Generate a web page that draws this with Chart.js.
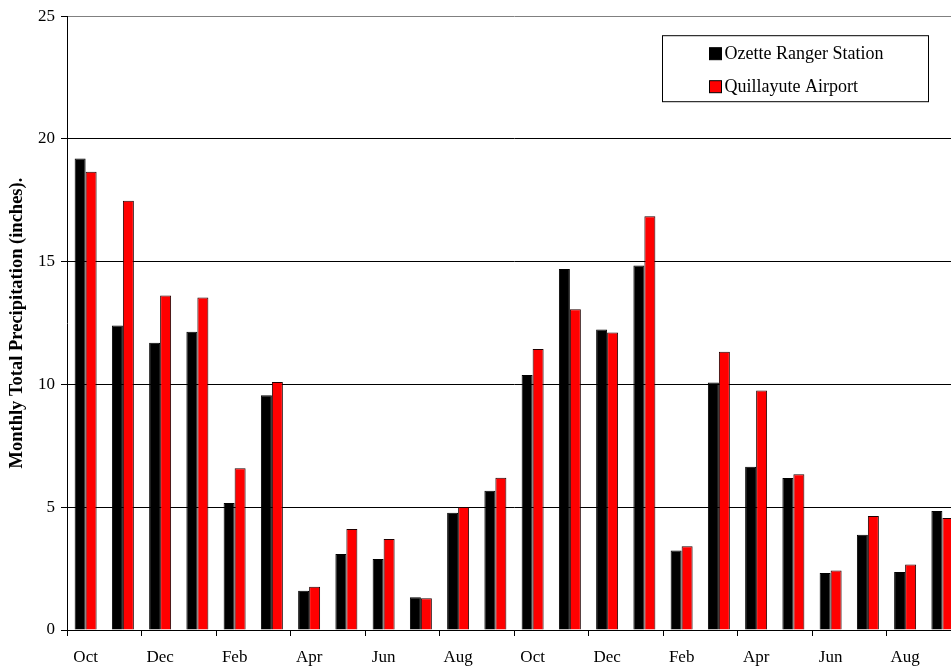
<!doctype html>
<html lang="en">
<head>
    <meta charset="utf-8">
    <title>Monthly Total Precipitation</title>
    <script src="https://cdn.jsdelivr.net/npm/chart.js@4.4.0/dist/chart.umd.min.js"></script>
    <style>
        html, body { margin: 0; padding: 0; background: #fff; overflow: hidden; }
        #wrap { width: 980px; height: 667px; }
    </style>
</head>
<body>

<div id="wrap">
    <canvas id="myChart"></canvas>
</div>

<script>
    const months = [
        'Oct', 'Nov', 'Dec', 'Jan', 'Feb', 'Mar', 'Apr', 'May', 'Jun', 'Jul', 'Aug', 'Sep',
        'Oct', 'Nov', 'Dec', 'Jan', 'Feb', 'Mar', 'Apr', 'May', 'Jun', 'Jul', 'Aug', 'Sep'
    ];

    const ozette = [
        19.2, 12.4, 11.7, 12.15, 5.17, 9.56, 1.6, 3.1, 2.89, 1.33, 4.78, 5.67,
        10.39, 14.7, 12.24, 14.85, 3.24, 10.08, 6.65, 6.19, 2.32, 3.88, 2.36, 4.85
    ];

    const quillayute = [
        18.66, 17.48, 13.62, 13.54, 6.59, 10.1, 1.76, 4.11, 3.71, 1.29, 5.01, 6.2,
        11.45, 13.06, 12.12, 16.85, 3.41, 11.33, 9.75, 6.34, 2.42, 4.64, 2.67, 4.56
    ];

    const yTicks = [0, 5, 10, 15, 20, 25];

    const serif = '"Liberation Serif", "Times New Roman", serif';

    // legend box in the top right, drawn by hand so it gets a frame
    const boxLegend = {
        id: 'boxLegend',
        afterDraw(chart) {
            const ctx = chart.ctx;
            const area = chart.chartArea;
            const x = area.left + 595.5;
            const y = area.top + 19.5;
            ctx.save();
            ctx.fillStyle = '#fff';
            ctx.strokeStyle = '#000';
            ctx.lineWidth = 1;
            ctx.fillRect(x, y, 266, 66);
            ctx.strokeRect(x, y, 266, 66);
            ctx.font = '18px ' + serif;
            ctx.textBaseline = 'middle';
            chart.data.datasets.forEach(function (ds, i) {
                const cy = y + 18 + i * 33;
                ctx.fillStyle = ds.backgroundColor;
                ctx.fillRect(x + 47, cy - 6, 12, 12);
                ctx.strokeStyle = '#000';
                ctx.strokeRect(x + 47, cy - 6, 12, 12);
                ctx.fillStyle = '#000';
                ctx.fillText(ds.label, x + 62, cy + 1);
            });
            ctx.restore();
        }
    };

    const config = {
        type: 'bar',
        data: {
            labels: months,
            datasets: [{
                label: 'Ozette Ranger Station',
                data: ozette,
                backgroundColor: '#000000',
                borderColor: '#000000',
                borderWidth: 1
            }, {
                label: 'Quillayute Airport',
                data: quillayute,
                backgroundColor: '#ff0000',
                borderColor: '#200000',
                borderWidth: 1
            }]
        },
        options: {
            responsive: true,
            maintainAspectRatio: false,
            animation: false,
            categoryPercentage: 0.59,
            barPercentage: 1.0,
            layout: {
                padding: {top: 15, right: 19, left: 0, bottom: 0}
            },
            plugins: {
                legend: {display: false},
                tooltip: {enabled: false}
            },
            scales: {
                x: {
                    afterFit: function (scale) { scale.height = 37; },
                    border: {color: '#000', width: 1},
                    grid: {
                        offset: true,
                        drawOnChartArea: false,
                        tickLength: 6,
                        color: function (c) { return c.index % 2 === 0 ? '#000' : 'rgba(0,0,0,0)'; }
                    },
                    ticks: {
                        autoSkip: false,
                        maxRotation: 0,
                        padding: 11,
                        color: '#000',
                        font: {family: serif, size: 17},
                        callback: function (val, i) { return i % 2 === 0 ? months[i] : ''; }
                    }
                },
                y: {
                    min: yTicks[0],
                    max: yTicks[yTicks.length - 1],
                    afterFit: function (scale) { scale.width = 67; },
                    afterBuildTicks: function (scale) {
                        scale.ticks = yTicks.map(function (v) { return {value: v}; });
                    },
                    border: {color: '#000', width: 1},
                    grid: {
                        tickLength: 6,
                        tickColor: '#000',
                        color: function (c) { return c.tick && c.tick.value === 25 ? '#808080' : '#000'; }
                    },
                    ticks: {
                        padding: 6,
                        color: '#000',
                        font: {family: serif, size: 17}
                    },
                    title: {
                        display: true,
                        text: 'Monthly Total Precipitation (inches).',
                        color: '#000',
                        padding: {top: 6, bottom: 0},
                        font: {family: serif, size: 18.5, weight: 'bold'}
                    }
                }
            }
        },
        plugins: [boxLegend]
    };

    const myChart = new Chart(document.getElementById('myChart'), config);
</script>

</body>
</html>
